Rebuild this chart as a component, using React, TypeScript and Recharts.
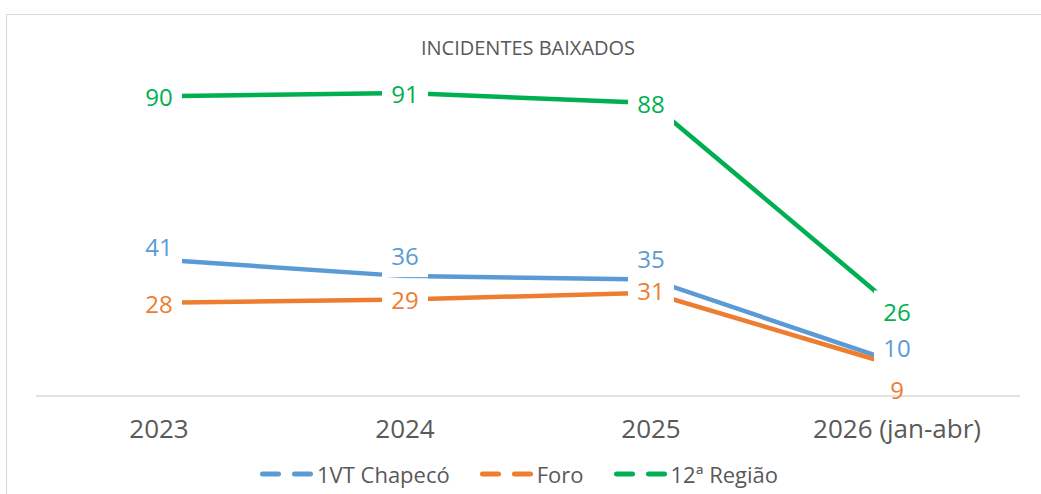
import { LineChart, Line, XAxis, YAxis, LabelList } from "recharts";

const categorias = ["2023", "2024", "2025", "2026 (jan-abr)"];
const vtChapeco = [41, 36, 35, 10];
const foro = [28, 29, 31, 9];
const regiao12 = [90, 91, 88, 26];

const dados = categorias.map((c, i) => ({
  ano: c,
  vt: vtChapeco[i],
  foro: foro[i],
  regiao: regiao12[i],
}));

const FONTE = "'Open Sans', 'Noto Sans', sans-serif";
const CINZA = "#595959";
const AZUL = "#5B9BD5";
const LARANJA = "#ED7D31";
const VERDE = "#00B050";

const MARGEM = { top: 63, right: 21, bottom: 38, left: 36 };
const ALTURA = 494;
const ALT_EIXO = 60;
const BASE_Y = ALTURA - MARGEM.bottom - ALT_EIXO; // linha do eixo x

// deslocamento vertical dos rótulos (px), como ajustados à mão no original
const desloc: Record<string, number[]> = {
  vt: [-13, -21, -21, -15],
  foro: [1, 0, -2, 23],
  regiao: [0, 1, 1, 2],
};

const rotulo = (chave: string, cor: string) => (props: any) => {
  const x = props.x ?? props.viewBox?.x;
  const y = props.y ?? props.viewBox?.y;
  const cy = y + desloc[chave][props.index];
  const topo = cy - 21;
  const fundo = Math.min(cy + 22, BASE_Y - 1.5);
  return (
    <g>
      <rect x={x - 23} y={topo} width={46} height={fundo - topo} fill="#fff" />
      <text
        x={x}
        y={cy}
        textAnchor="middle"
        dominantBaseline="central"
        fill={cor}
        fontSize={24}
        fontFamily={FONTE}
      >
        {props.value}
      </text>
    </g>
  );
};

const TickAno = (props: any) => {
  const { x, y, payload } = props;
  return (
    <text
      x={x}
      y={y}
      textAnchor="middle"
      dominantBaseline="central"
      fill={CINZA}
      fontSize={26}
      fontFamily={FONTE}
    >
      {payload.value}
    </text>
  );
};

const series = [
  { chave: "vt", nome: "1VT Chapecó", cor: AZUL },
  { chave: "foro", nome: "Foro", cor: LARANJA },
  { chave: "regiao", nome: "12ª Região", cor: VERDE },
];

function Legenda() {
  return (
    <div
      style={{
        position: "absolute",
        left: 260,
        top: 459,
        display: "flex",
        alignItems: "center",
        fontFamily: FONTE,
        fontSize: 22,
        color: CINZA,
        whiteSpace: "nowrap",
      }}
    >
      {series.map((s, i) => (
        <div
          key={s.chave}
          style={{ display: "flex", alignItems: "center", marginLeft: i ? 30 : 0 }}
        >
          <svg width={53} height={10}>
            <line
              x1={2.5}
              x2={50.5}
              y1={5}
              y2={5}
              stroke={s.cor}
              strokeWidth={5}
              strokeLinecap="round"
              strokeDasharray="16 16"
            />
          </svg>
          <span style={{ marginLeft: 4 }}>{s.nome}</span>
        </div>
      ))}
    </div>
  );
}

export default function App() {
  return (
    <div
      style={{
        position: "fixed",
        left: 0,
        top: 0,
        width: 1041,
        height: 494,
        overflow: "hidden",
        background: "#fff",
      }}
    >
      <div
        style={{
          position: "absolute",
          left: 6,
          top: 14,
          width: 1200,
          height: 700,
          border: "1.5px solid #d9d9d9",
        }}
      />
      <div
        style={{
          position: "absolute",
          left: 0,
          width: 1056,
          top: 34,
          textAlign: "center",
          fontFamily: FONTE,
          fontSize: 20,
          color: CINZA,
        }}
      >
        INCIDENTES BAIXADOS
      </div>
      <div style={{ position: "absolute", left: 0, top: 0 }}>
        <LineChart width={1041} height={ALTURA} data={dados} margin={MARGEM}>
          <YAxis hide domain={[0, 100]} />
          {series.map((s) => (
            <Line
              key={s.chave}
              dataKey={s.chave}
              name={s.nome}
              stroke={s.cor}
              strokeWidth={4.5}
              dot={false}
              activeDot={false}
              isAnimationActive={false}
            />
          ))}
          {series.map((s) => (
            <Line
              key={"r" + s.chave}
              dataKey={s.chave}
              stroke="none"
              dot={false}
              activeDot={false}
              legendType="none"
              isAnimationActive={false}
            >
              <LabelList dataKey={s.chave} content={rotulo(s.chave, s.cor)} />
            </Line>
          ))}
          <XAxis
            dataKey="ano"
            height={ALT_EIXO}
            padding={{ left: 123, right: 123 }}
            axisLine={{ stroke: "#d9d9d9", strokeWidth: 1.5 }}
            tickLine={false}
            tickSize={0}
            tickMargin={32}
            tick={<TickAno />}
            interval={0}
          />
        </LineChart>
      </div>
      <Legenda />
    </div>
  );
}
